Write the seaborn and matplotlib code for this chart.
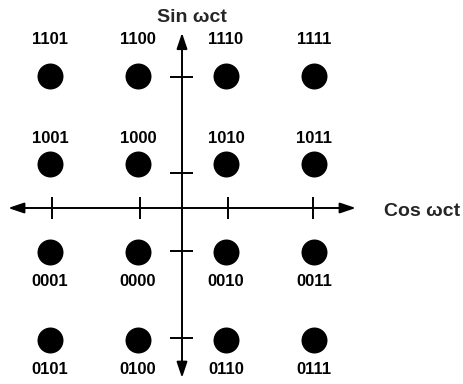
import matplotlib
matplotlib.use("Agg")
import matplotlib.pyplot as plt
import pandas as pd
import seaborn as sns

# 16-QAM constellation: in-phase (cos) and quadrature (sin) levels
I_LEVELS = [-3, -1, 1, 3]
Q_LEVELS = [3, 1, -1, -3]
SYMBOLS = [
    ["1101", "1100", "1110", "1111"],
    ["1001", "1000", "1010", "1011"],
    ["0001", "0000", "0010", "0011"],
    ["0101", "0100", "0110", "0111"],
]
# label offset from its dot, per row (top rows above, bottom rows below)
LABEL_OFFSETS = [0.82, 0.59, -0.66, -0.68]
X_TICKS = [-2.95, -0.95, 1.05, 2.98]
Y_TICKS = [2.98, 0.8, -0.98, -2.95]
X_AXIS_LABEL = "Cos \u03c9ct"
Y_AXIS_LABEL = "Sin \u03c9ct"

sns.set_theme(style="white")
plt.rcParams["font.family"] = ["Liberation Sans", "DejaVu Sans"]


def build_points() -> pd.DataFrame:
    rows = []
    for r, q in enumerate(Q_LEVELS):
        for c, i in enumerate(I_LEVELS):
            rows.append({"i": i, "q": q, "symbol": SYMBOLS[r][c], "offset": LABEL_OFFSETS[r]})
    return pd.DataFrame(rows)


def main() -> None:
    points = build_points()
    fig = plt.figure(figsize=(4.64, 3.84), dpi=100)
    ax = fig.add_axes([0, 0, 1, 1])

    sns.scatterplot(data=points, x="i", y="q", s=300, color="black",
                    edgecolor="black", legend=False, ax=ax, zorder=3)

    for _, p in points.iterrows():
        ax.text(p["i"], p["q"] + p["offset"], p["symbol"], ha="center", va="center",
                fontsize=12, fontweight="bold", color="black")

    arrow = dict(arrowstyle="<|-|>,head_length=0.95,head_width=0.32", lw=1.4,
                 color="black", shrinkA=0, shrinkB=0, mutation_scale=10)
    ax.annotate("", xy=(3.95, 0), xytext=(-3.95, 0), arrowprops=arrow)
    ax.annotate("", xy=(0, 3.98), xytext=(0, -3.86), arrowprops=arrow)

    ax.vlines(X_TICKS, -0.25, 0.25, color="black", lw=1.4)
    ax.hlines(Y_TICKS, -0.27, 0.25, color="black", lw=1.4)

    ax.text(0.23, 4.34, Y_AXIS_LABEL, ha="center", va="center", fontsize=14, fontweight="bold")
    ax.text(5.45, -0.09, X_AXIS_LABEL, ha="center", va="center", fontsize=14, fontweight="bold")

    ax.set_xlim(-182 / 44, 282 / 44)
    ax.set_ylim(-176 / 44, 208 / 44)
    ax.set_axis_off()
    fig.savefig("out.png", dpi=100)
    plt.close(fig)


if __name__ == "__main__":
    main()
